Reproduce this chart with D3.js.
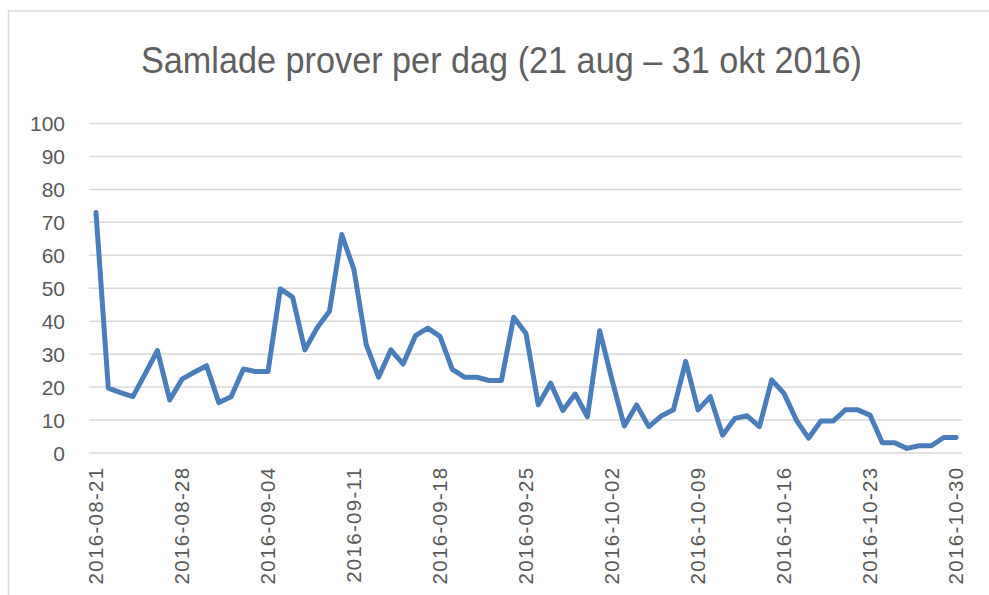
<!DOCTYPE html>
<html>
<head>
<meta charset="utf-8">
<script src="https://cdn.jsdelivr.net/npm/d3@7"></script>
<style>
  html, body { margin: 0; padding: 0; background: #ffffff; }
  svg { display: block; }
</style>
</head>
<body>
<svg id="chart" width="989" height="595"></svg>
<script>
const title = "Samlade prover per dag (21 aug – 31 okt 2016)";
const startDate = "2016-08-21";
const values = [
  73, 19.7, 18.3, 17.1, 24, 31.1, 16.1, 22.4, 24.5, 26.5,
  15.3, 17.1, 25.5, 24.7, 24.7, 49.8, 47.3, 31.3, 38, 43,
  66.3, 55.6, 32.8, 23, 31.3, 27, 35.6, 37.9, 35.4, 25.4,
  23, 23, 22, 22, 41.2, 36.3, 14.6, 21.2, 12.9, 17.9,
  11, 37.1, 22.2, 8.2, 14.6, 8, 11.2, 13.1, 27.8, 13.1,
  17.1, 5.4, 10.5, 11.3, 8, 22.2, 18.1, 10, 4.5, 9.7,
  9.7, 13.1, 13.1, 11.5, 3.1, 3.1, 1.4, 2.2, 2.2, 4.7,
  4.7
];
const xTickLabels = ["2016-08-21","2016-08-28","2016-09-04","2016-09-11","2016-09-18",
  "2016-09-25","2016-10-02","2016-10-09","2016-10-16","2016-10-23","2016-10-30"];
const yTicks = [0,10,20,30,40,50,60,70,80,90,100];

const parse = d3.timeParse("%Y-%m-%d");
const start = parse(startDate);
const data = values.map((v, i) => ({ date: d3.timeDay.offset(start, i), value: v }));

const svg = d3.select("#chart");

// outer chart frame
svg.append("rect")
  .attr("x", 8.5).attr("y", 11)
  .attr("width", 1200).attr("height", 800)
  .attr("fill", "none").attr("stroke", "#d9d9d9").attr("stroke-width", 1.5);

const x = d3.scaleTime()
  .domain([data[0].date, data[data.length - 1].date])
  .range([96, 956]);
const y = d3.scaleLinear().domain([0, 100]).range([453, 123.5]);

const gridLeft = 89, gridRight = 962;

// gridlines
svg.append("g").selectAll("line").data(yTicks).join("line")
  .attr("x1", gridLeft).attr("x2", gridRight)
  .attr("y1", d => y(d)).attr("y2", d => y(d))
  .attr("stroke", "#d9d9d9").attr("stroke-width", 1.5);

// y labels
svg.append("g").selectAll("text").data(yTicks).join("text")
  .attr("x", 65).attr("y", d => y(d))
  .attr("dy", "0.36em")
  .attr("text-anchor", "end")
  .attr("font-family", "Liberation Sans, Arial, sans-serif")
  .attr("font-size", 21)
  .attr("fill", "#595959")
  .text(d => d);

// x labels
svg.append("g").selectAll("text").data(xTickLabels).join("text")
  .attr("transform", d => `translate(${x(parse(d))},466.5) rotate(-90)`)
  .attr("dy", "0.36em")
  .attr("text-anchor", "end")
  .attr("font-family", "Liberation Sans, Arial, sans-serif")
  .attr("font-size", 20.5)
  .attr("letter-spacing", 1.3)
  .attr("fill", "#595959")
  .text(d => d);

// line
const line = d3.line().x(d => x(d.date)).y(d => y(d.value));
svg.append("path")
  .datum(data)
  .attr("d", line)
  .attr("fill", "none")
  .attr("stroke", "#4a7ebb")
  .attr("stroke-width", 5)
  .attr("stroke-linejoin", "round")
  .attr("stroke-linecap", "round");

// title
svg.append("text")
  .attr("x", 141).attr("y", 72.5)
  .attr("font-family", "Liberation Sans, Arial, sans-serif")
  .attr("font-size", 36)
  .attr("fill", "#5f5f5f")
  .attr("textLength", 721)
  .attr("lengthAdjust", "spacingAndGlyphs")
  .text(title);
</script>
</body>
</html>
